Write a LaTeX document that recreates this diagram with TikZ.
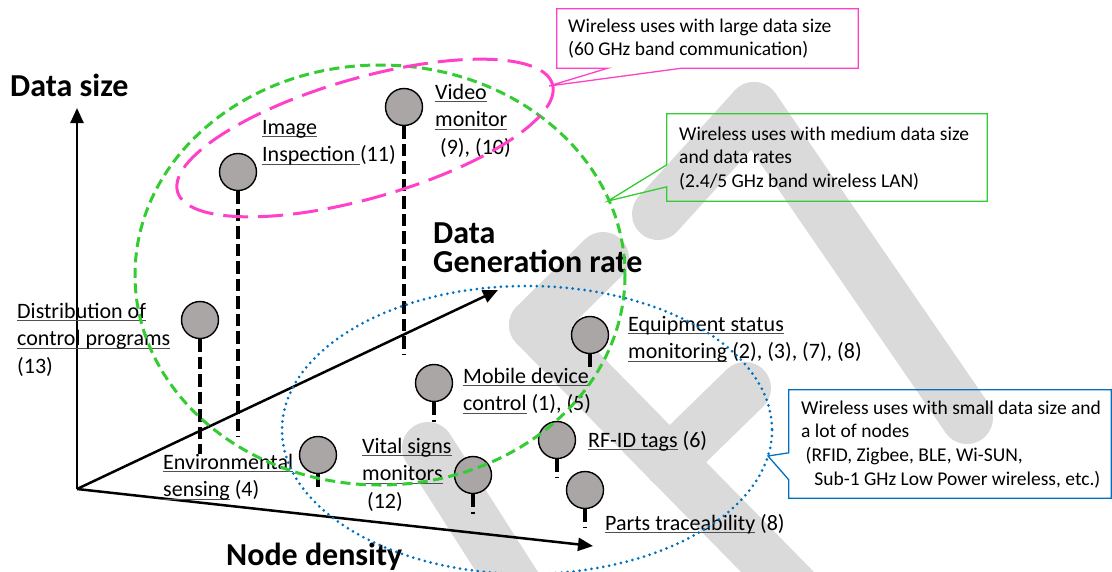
\documentclass[tikz,border=0pt]{standalone}
\usepackage{fontspec}
\setmainfont{Carlito}
\usetikzlibrary{arrows.meta,calc}
\definecolor{pinkc}{RGB}{255,64,200}
\definecolor{greenc}{RGB}{51,204,51}
\definecolor{bluec}{RGB}{0,112,192}
\definecolor{nodegray}{RGB}{170,166,165}
\definecolor{wmark}{RGB}{218,218,218}
\definecolor{ulc}{RGB}{80,80,80}
\newcommand\gu[1]{\setbox0=\hbox{#1}\rlap{\color{ulc}\rule[-3pt]{\wd0}{1pt}}\box0\relax}
\newcommand\mlines[2][27.5pt]{\vtop{\baselineskip=#1\lineskiplimit=-100pt\lineskip=0pt\halign{##\hfil\cr#2\crcr}}}
\tikzset{
  wm/.style={line width=52pt, line cap=round, draw=wmark},
  axisline/.style={line width=2.5pt, -{Triangle[length=15pt,width=13pt]}},
  dot/.style={circle, draw=black, line width=1.4pt, fill=nodegray, minimum size=37pt, inner sep=0pt},
  stem/.style={line width=4pt, dash pattern=on 12.5pt off 5pt},
  lbl/.style={inner sep=0pt, anchor=base west, font=\fontsize{22}{27.5}\selectfont},
  bigt/.style={inner sep=0pt, anchor=base west, font=\fontsize{32}{30}\selectfont\bfseries},
  btxt/.style={inner sep=0pt, anchor=base west, font=\fontsize{19.5}{23.5}\selectfont},
  callbox/.style={draw=none, inner sep=0pt},
  callline/.style={line width=1.3pt, line join=miter},
}
\begin{document}
\begin{tikzpicture}[x=1pt,y=-1pt]
\useasboundingbox (0,0) rectangle (1112,571);
\fill[white] (0,0) rectangle (1112,571);
% watermark
\draw[wm] (754,108) -- (967,418);
\draw[wm] (754,108) -- (658,214);
\draw[wm] (603,258) -- (535,325);
\draw[wm] (535,325) -- (805,600);
\draw[wm] (745,388) -- (669,462);
\draw[wm] (428,448) -- (525,600);
% axes
\coordinate (O) at (77,489);
\coordinate (ytip) at (77,108);
\coordinate (rtip) at (498,290);
\coordinate (dtip) at (593,546);
\draw[axisline] (O) -- (ytip);
\draw[axisline] (O) -- (rtip);
\draw[axisline] (O) -- (dtip);
% bold axis labels
\node[bigt] (tds) at (10,96) {Data size};
\node[bigt] (tgr1) at (433,243) {Data};
\node[bigt] (tgr2) at (433,272) {Generation rate};
\node[bigt] (tnd) at (226,565) {Node density};
% points
\node[dot] (cimg) at (238,172) {};
\node[dot] (cvid) at (404,107) {};
\node[dot] (cdist) at (200,320) {};
\node[dot] (cenv) at (318,455) {};
\node[dot] (cvit) at (473,475) {};
\node[dot] (cmob) at (434,383) {};
\node[dot] (cequ) at (590,335) {};
\node[dot] (crf) at (557,440) {};
\node[dot] (cpart) at (585,490) {};
\draw[stem] (cimg.south) -- ++(0,246);
\draw[stem] (cvid.south) -- ++(0,228);
\draw[stem] (cdist.south) -- ++(0,115);
\draw[stem] (cenv.south) -- ++(0,17);
\draw[stem] (cvit.south) -- ++(0,20);
\draw[stem] (cmob.south) -- ++(0,20);
\draw[stem] (cequ.south) -- ++(0,17);
\draw[stem] (crf.south) -- ++(0,19);
\draw[stem] (cpart.south) -- ++(0,19);
% labels
\node[lbl] (limg) at (262,134) {\mlines{\gu{Image}\cr\gu{Inspection\ }(11)}};
\node[lbl] (lvid) at (435,99) {\mlines{\gu{Video}\cr\gu{monitor}\cr\ (9), (10)}};
\node[lbl] (ldist) at (17,318) {\mlines{\gu{Distribution of}\cr\gu{control programs}\cr(13)}};
\node[lbl] (lenv) at (163,469) {\mlines{\gu{Environmental}\cr\gu{sensing} (4)}};
\node[lbl] (lvit) at (362,453) {\mlines{\gu{Vital signs}\cr\gu{monitors}\cr\ (12)}};
\node[lbl] (lmob) at (463,383) {\mlines{\gu{Mobile device}\cr\gu{control} (1), (5)}};
\node[lbl] (lequ) at (628,331) {\mlines{\gu{Equipment status}\cr\gu{monitoring} (2), (3), (7), (8)}};
\node[lbl] (lrf) at (588,447) {\gu{RF-ID tags} (6)};
\node[lbl] (lpart) at (605,530) {\gu{Parts traceability} (8)};
% ellipses
\draw[greenc, line width=3pt, dash pattern=on 10pt off 5.5pt] (380,275) ellipse [x radius=245, y radius=210];
\draw[bluec, line width=3pt, line cap=round, dash pattern=on 0pt off 6pt] (527,430) ellipse [x radius=245, y radius=144];
\draw[pinkc, line width=3pt, dash pattern=on 25pt off 10pt, rotate around={16:(365,138)}] (365,138) ellipse [x radius=195, y radius=60];
% callout: large data size
\node[callbox, minimum width=301pt, minimum height=59pt] (pb) at (707.5,38.5) {};
\coordinate (ptip) at (549,86);
\path (pb.south west) ++(51,0) coordinate (pa1);
\path (pb.south west) ++(125,0) coordinate (pa2);
\draw[callline, pinkc] (pa1) -- (ptip) -- (pa2) -- (pb.south east) -- (pb.north east) -- (pb.north west) -- (pb.south west) -- cycle;
\node[btxt] (pt) at (568,32) {\mlines[23.5pt]{Wireless uses with large data size\cr(60 GHz band communication)}};
% callout: medium data size
\node[callbox, minimum width=320pt, minimum height=87pt] (gb) at (827,157.5) {};
\coordinate (gtip) at (608,201);
\path (gb.north west) ++(0,51) coordinate (ga1);
\path (gb.north west) ++(0,73) coordinate (ga2);
\draw[callline, greenc] (ga1) -- (gtip) -- (ga2) -- (gb.south west) -- (gb.south east) -- (gb.north east) -- (gb.north west) -- cycle;
\node[btxt] (gt) at (679,140) {\mlines[23.5pt]{Wireless uses with medium data size\cr and data rates\cr(2.4/5 GHz band wireless LAN)}};
% callout: small data size
\node[callbox, minimum width=322pt, minimum height=108pt] (bb) at (950,444) {};
\coordinate (btip) at (768,456);
\path (bb.north west) ++(0,63) coordinate (ba1);
\path (bb.north west) ++(0,90) coordinate (ba2);
\draw[callline, bluec] (ba1) -- (btip) -- (ba2) -- (bb.south west) -- (bb.south east) -- (bb.north east) -- (bb.north west) -- cycle;
\node[btxt] (bt) at (801,414) {\mlines[23.8pt]{Wireless uses with small data size and\cr a lot of nodes\cr\ (RFID, Zigbee, BLE, Wi-SUN,\cr\ \ \ Sub-1 GHz Low Power wireless, etc.)}};
\end{tikzpicture}
\end{document}
